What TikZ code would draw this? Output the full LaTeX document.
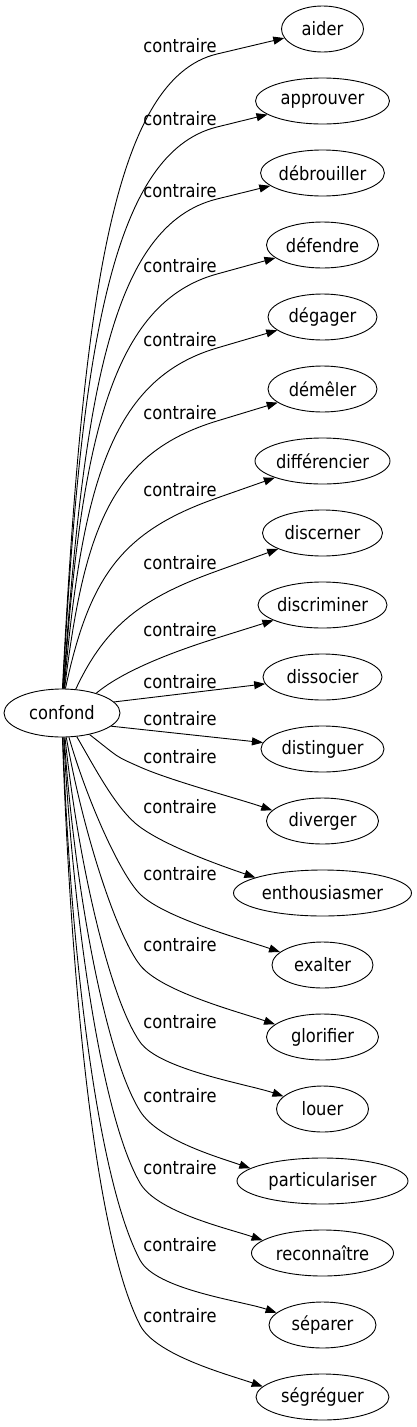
\documentclass[tikz,border=0pt]{standalone}
\usepackage{fontspec}
\setmainfont{DejaVu Sans}[FakeStretch=0.88]
\usetikzlibrary{arrows.meta,calc,shapes.geometric}
\begin{document}
\begin{tikzpicture}[x=1pt,y=1pt,
  font=\fontsize{18.5}{21}\selectfont,
  tgt/.style={draw,ellipse,inner sep=0pt,minimum height=46pt,line width=0.9pt},
  lbl/.style={inner sep=0pt,text=black},
  edge/.style={line width=0.9pt,-{Triangle[length=11pt,width=8pt]}}]
\useasboundingbox (0,0) rectangle (417,-1427);
\node[tgt,minimum width=116pt,minimum height=48pt] (confond) at (62,-713) {confond};
\foreach \nm/\tx/\w [count=\i from 0] in {aider/aider/82, approuver/approuver/134,
  debrouiller/débrouiller/123, defendre/défendre/112, degager/dégager/109,
  demeler/démêler/109, differencier/différencier/135, discerner/discerner/120,
  discriminer/discriminer/129, dissocier/dissocier/119, distinguer/distinguer/123,
  diverger/diverger/112, enthousiasmer/enthousiasmer/178, exalter/exalter/101,
  glorifier/glorifier/112, louer/louer/92, particulariser/particulariser/171,
  reconnaitre/reconnaître/142, separer/séparer/107, segreguer/ségréguer/133}{
  \node[tgt,minimum width=\w pt] (\nm) at (322.5,{-29-72*\i}) {\tx};
}
\foreach \L [count=\i from 0] in {46,119,191,266,340,413,490,563,630,682,719,757,807,874,945,1022,1096,1168,1245,1316}{
  \node[lbl] (l\i) at (180,-\L) {contraire};
}
% upper edges
\foreach \nm/\L/\ts/\ph/\k in {aider/46/89/87/1, approuver/119/88/87/1,
  debrouiller/191/87/86/1, defendre/266/86/86/1, degager/340/85/85/1,
  demeler/413/84/83/1, differencier/490/82/78/0.9, discerner/563/60/65/0.7,
  discriminer/630/30/40/0.5}{
  \pgfmathsetmacro\cy{\L+8}
  \pgfmathsetmacro\a{0.6*(690-\cy)}
  \coordinate (c\nm) at (217,-\cy);
  \draw[edge] (confond.\ts) .. controls +(\ph:\a) and ($(c\nm)!-\k!(\nm)$) .. (c\nm) -- (\nm);
}
% middle edges
\draw[edge] (confond.12) -- (dissocier);
\draw[edge] (confond.-15) -- (distinguer);
% lower edges
\foreach \nm/\L/\ts/\ph/\tk/\off/\ea in {diverger/757/-38/-38/-24/10/168,
  enthousiasmer/807/-58/-60/-36/20/167, exalter/874/-74/-74/-45/20/163,
  glorifier/945/-80/-80/-52/20/165, louer/1022/-83/-84/-55/20/162,
  particulariser/1096/-85/-86/-58/15/170, reconnaitre/1168/-86/-87/-60/15/168,
  separer/1245/-88/-88/-62/15/165, segreguer/1316/-89/-88/-63/9/170}{
  \pgfmathsetmacro\ky{\L+\off}
  \pgfmathsetmacro\a{max(0.42*(\ky-737),40)}
  \pgfmathsetmacro\b{max(0.17*(\ky-737),28)}
  \pgfmathsetmacro\tb{\tk+180}
  \coordinate (k\nm) at (140,-\ky);
  \draw[edge] (confond.\ts) .. controls +(\ph:\a) and +(\tb:\b) .. (k\nm)
    .. controls +(\tk:34) and +(161:36) .. (\nm.\ea);
}
\end{tikzpicture}
\end{document}
